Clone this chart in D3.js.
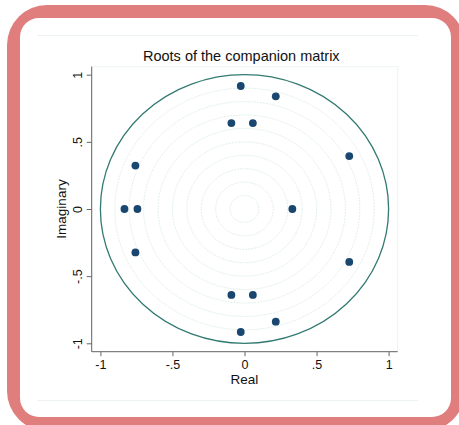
<!DOCTYPE html>
<html>
<head>
<meta charset="utf-8">
<script src="https://cdn.jsdelivr.net/npm/d3@7"></script>
<style>
html,body{margin:0;padding:0;background:#fff;}
svg{display:block;font-family:"Liberation Sans",Arial,sans-serif;}
</style>
</head>
<body>
<svg id="chart" width="459" height="425"></svg>
<script>
// ---- data ----
const realParts = [-0.026, 0.217, -0.091, 0.058, 0.727, 0.332, -0.757, -0.833, -0.743, -0.757, 0.727, -0.091, 0.058, 0.217, -0.026];
const imagParts = [0.916, 0.839, 0.640, 0.640, 0.394, 0.000, 0.323, 0.000, 0.000, -0.323, -0.394, -0.640, -0.640, -0.839, -0.916];
const tickValues = [-1, -0.5, 0, 0.5, 1];
const tickLabels = ["-1", "-.5", "0", ".5", "1"];
const ringRadii = [0.1, 0.2, 0.3, 0.4, 0.5, 0.6, 0.7, 0.8, 0.9];
const unitRadius = [1];
const title = "Roots of the companion matrix";
const xTitle = "Real";
const yTitle = "Imaginary";

const svg = d3.select("#chart");

// frame
svg.append("path")
  .attr("fill", "#e07e7e")
  .attr("fill-rule", "evenodd")
  .attr("d", (() => {
    const p = d3.path();
    const rr = (x0, y0, x1, y1, r) => {
      p.moveTo(x0 + r, y0);
      p.lineTo(x1 - r, y0);
      p.arcTo(x1, y0, x1, y0 + r, r);
      p.lineTo(x1, y1 - r);
      p.arcTo(x1, y1, x1 - r, y1, r);
      p.lineTo(x0 + r, y1);
      p.arcTo(x0, y1, x0, y1 - r, r);
      p.lineTo(x0, y0 + r);
      p.arcTo(x0, y0, x0 + r, y0, r);
      p.closePath();
    };
    rr(7, 5, 465, 431, 40);
    rr(20, 18, 451, 417, 19);
    return p.toString();
  })());

// graph region border (faint)
svg.append("line").attr("x1", 37).attr("x2", 418).attr("y1", 35.5).attr("y2", 35.5)
  .attr("stroke", "#edf3f3").attr("stroke-width", 1);
svg.append("line").attr("x1", 37).attr("x2", 418).attr("y1", 400.5).attr("y2", 400.5)
  .attr("stroke", "#edf3f3").attr("stroke-width", 1);

// scales
const x = d3.scaleLinear().domain([-1, 1]).range([100.4, 388.6]);
const y = d3.scaleLinear().domain([-1, 1]).range([343.3, 74.7]);
const plotL = 91.7, plotR = 397.7, plotT = 66.7, plotB = 351.7;

// plot region border (faint)
svg.append("rect").attr("x", plotL).attr("y", plotT)
  .attr("width", plotR - plotL).attr("height", plotB - plotT)
  .attr("fill", "none").attr("stroke", "#eef3f3").attr("stroke-width", 1);

// rings
svg.append("g").selectAll("ellipse").data(ringRadii).join("ellipse")
  .attr("cx", x(0)).attr("cy", y(0))
  .attr("rx", d => x(d) - x(0)).attr("ry", d => y(0) - y(d))
  .attr("fill", "none").attr("stroke", "#e2f0ec").attr("stroke-width", 1)
  .attr("stroke-dasharray", "2,1");

// unit circle
svg.append("g").selectAll("ellipse").data(unitRadius).join("ellipse")
  .attr("cx", x(0)).attr("cy", y(0))
  .attr("rx", d => x(d) - x(0)).attr("ry", d => y(0) - y(d))
  .attr("fill", "none").attr("stroke", "#327a72").attr("stroke-width", 1.3);

// points
svg.append("g").selectAll("circle").data(realParts.map((r, i) => [r, imagParts[i]])).join("circle")
  .attr("cx", d => x(d[0])).attr("cy", d => y(d[1]))
  .attr("r", 3.9).attr("fill", "#1a476f");

// axes
const fmt = d => tickLabels[tickValues.indexOf(d)];
const xAxis = svg.append("g").attr("transform", `translate(0,${plotB})`)
  .call(d3.axisBottom(x).tickValues(tickValues).tickFormat(fmt).tickSize(4.5).tickSizeOuter(0));
xAxis.select(".domain").attr("d", `M${plotL},0H${plotR}`).attr("stroke", "#666");
xAxis.selectAll(".tick line").attr("stroke", "#666");
xAxis.selectAll(".tick text").attr("font-size", 12.5).attr("fill", "#111").attr("dy", null).attr("y", 17.8)
  .attr("font-family", "Liberation Sans, Arial, sans-serif");

const yAxis = svg.append("g").attr("transform", `translate(${plotL},0)`)
  .call(d3.axisLeft(y).tickValues(tickValues).tickFormat(fmt).tickSize(5).tickSizeOuter(0));
yAxis.select(".domain").attr("d", `M0,${plotT}V${plotB}`).attr("stroke", "#666");
yAxis.selectAll(".tick line").attr("stroke", "#666");
yAxis.selectAll(".tick text").attr("font-size", 12.5).attr("fill", "#111")
  .attr("x", null).attr("dy", null)
  .attr("text-anchor", "middle")
  .attr("font-family", "Liberation Sans, Arial, sans-serif")
  .attr("transform", "translate(-10,0) rotate(-90)");

// titles
svg.append("text").attr("x", 241.3).attr("y", 61).attr("text-anchor", "middle")
  .attr("font-size", 14.5).attr("fill", "#111").text(title);
svg.append("text").attr("x", x(0)).attr("y", 384).attr("text-anchor", "middle")
  .attr("font-size", 13.5).attr("fill", "#111").text(xTitle);
svg.append("text").attr("transform", `translate(66,${y(0)}) rotate(-90)`).attr("text-anchor", "middle")
  .attr("font-size", 13.5).attr("fill", "#111").text(yTitle);
</script>
</body>
</html>
